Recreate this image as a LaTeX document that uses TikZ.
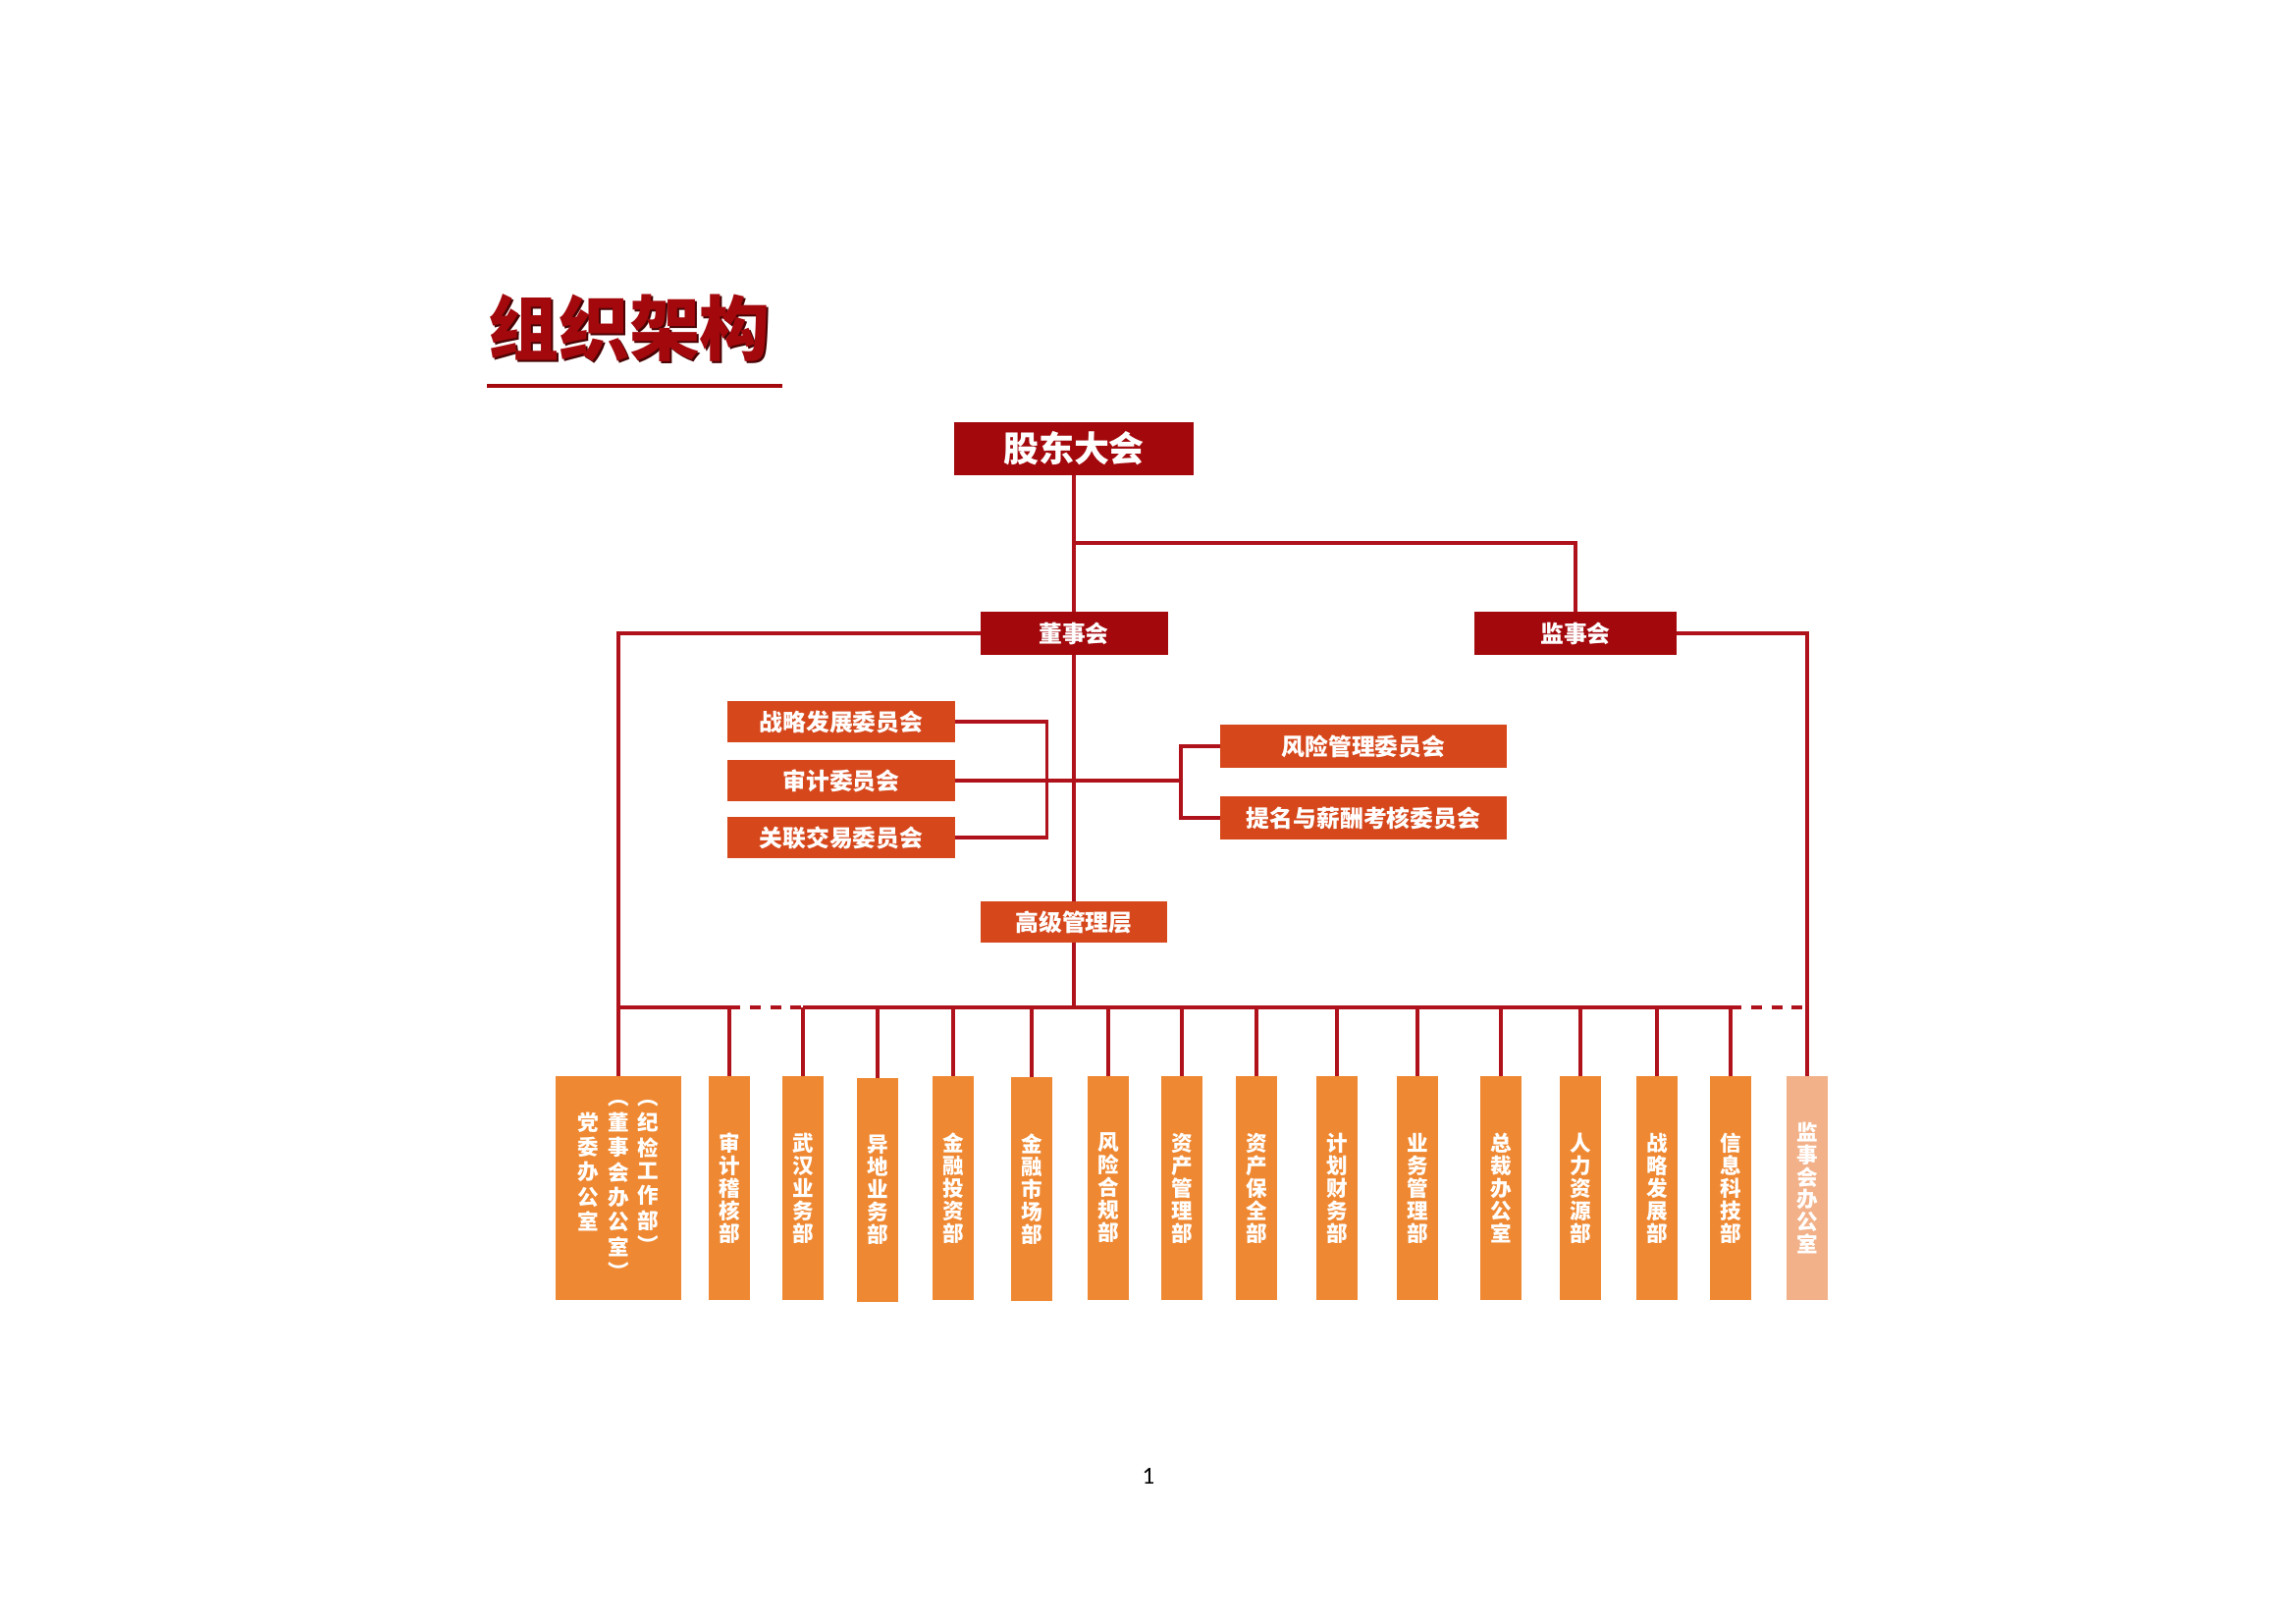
\documentclass[tikz,border=0pt]{standalone}
\usepackage{fontspec}
\setmainfont{Carlito}
\newfontfamily\cjk{Noto Sans CJK SC}
\usetikzlibrary{positioning}

\definecolor{dred}{RGB}{163,8,12}
\definecolor{lred}{RGB}{176,18,28}
\definecolor{ored}{RGB}{214,72,28}
\definecolor{orng}{RGB}{239,136,50}
\definecolor{lorng}{RGB}{242,177,137}

\begin{document}
\begin{tikzpicture}[
x=0.3613pt, y=-0.3613pt,
  hnode/.style={fill=dred,text=white,inner sep=0pt,outer sep=0pt,minimum height=15.9pt,
    font=\cjk\bfseries\fontsize{8.6}{10}\selectfont},
  wnode/.style={fill=ored,text=white,inner sep=0pt,outer sep=0pt,minimum height=15.5pt,
    font=\cjk\bfseries\fontsize{8.6}{10}\selectfont},
  bnode/.style={fill=orng,text=white,inner sep=0pt,outer sep=0pt,align=center,
    minimum width=15.5pt,minimum height=82.4pt,font=\cjk\bfseries\fontsize{7.8}{8.3}\selectfont},
  link/.style={draw=lred,line width=1.2pt},
  dlink/.style={link,dash pattern=on 4pt off 3.5pt}
]
\useasboundingbox (0,0) rectangle (2339,1654);

% title
\node[text=black!55!dred,font=\cjk\bfseries\fontsize{26}{30}\selectfont] (ts) at (643,336) {组织架构};
\node[text=dred,font=\cjk\bfseries\fontsize{26}{30}\selectfont] (tt) at (641,334) {组织架构};
\draw[dred,line width=1.8pt] (496,393) -- (797,393);

% top levels
\node[hnode,minimum width=88.2pt,minimum height=19.2pt,font=\cjk\bfseries\fontsize{13}{15}\selectfont] (gd) at (1094,457) {股东大会};
\node[hnode,minimum width=69pt] (dsh) at (1094,645) {董事会};
\node[hnode,minimum width=74.4pt] (jsh) at (1605,645) {监事会};

% committees
\node[wnode,minimum width=83.5pt,minimum height=15.2pt] (zl) at (857,735) {战略发展委员会};
\node[wnode,minimum width=83.5pt,minimum height=15.2pt] (sj) at (857,795) {审计委员会};
\node[wnode,minimum width=83.5pt,minimum height=15.2pt] (gl) at (857,853) {关联交易委员会};
\node[wnode,minimum width=105.5pt,minimum height=15.9pt] (fx) at (1389,760) {风险管理委员会};
\node[wnode,minimum width=105.5pt,minimum height=15.9pt] (tm) at (1389,833) {提名与薪酬考核委员会};
\node[wnode,minimum width=68.6pt] (gj) at (1094,939) {高级管理层};

% departments
\node[bnode,minimum width=46.2pt] (dw) at (630,1210) {%
  \begin{tabular}{@{}c@{\hspace{3.2pt}}c@{\hspace{3.2pt}}c@{}}
  \begin{tabular}[t]{@{}c@{}}\\党\\委\\办\\公\\室\end{tabular} &
  \begin{tabular}[t]{@{}c@{}}︵\\董\\事\\会\\办\\公\\室\\︶\end{tabular} &
  \begin{tabular}[t]{@{}c@{}}︵\\纪\\检\\工\\作\\部\\︶\end{tabular}
  \end{tabular}};
\node[bnode] (sjb) at (743,1210) {审\\计\\稽\\核\\部};
\node[bnode] (wh) at (818,1210) {武\\汉\\业\\务\\部};
\node[bnode] (yd) at (894,1212) {异\\地\\业\\务\\部};
\node[bnode] (jt) at (971,1210) {金\\融\\投\\资\\部};
\node[bnode] (js) at (1051,1211) {金\\融\\市\\场\\部};
\node[bnode] (fh) at (1129,1210) {风\\险\\合\\规\\部};
\node[bnode] (zg) at (1204,1210) {资\\产\\管\\理\\部};
\node[bnode] (zb) at (1280,1210) {资\\产\\保\\全\\部};
\node[bnode] (jh) at (1362,1210) {计\\划\\财\\务\\部};
\node[bnode] (yw) at (1444,1210) {业\\务\\管\\理\\部};
\node[bnode] (zc) at (1529,1210) {总\\裁\\办\\公\\室};
\node[bnode] (rl) at (1610,1210) {人\\力\\资\\源\\部};
\node[bnode] (zf) at (1688,1210) {战\\略\\发\\展\\部};
\node[bnode] (xx) at (1763,1210) {信\\息\\科\\技\\部};
\node[bnode,fill=lorng] (jb) at (1841,1210) {监\\事\\会\\办\\公\\室};

\node[font=\fontsize{9}{11}\selectfont] (pg) at (1170,1503) {1};

% connectors
\coordinate (t1) at (1094,553);
\coordinate (rb) at (1203,795);
\coordinate (bl) at (630,1026);
\coordinate (br) at (1841,1026);
\draw[link] (gd) -- (dsh);
\draw[link] (t1) -| (jsh);
\draw[link] (dsh) -- (gj);
\draw[link] (dsh.west) -| (dw);
\draw[link] (jsh.east) -| (jb);
\draw[link] (zl.east) -- ++(94,0) |- (gl.east);
\draw[link] (sj.east) -- (rb);
\draw[link] (fx.west) -| (rb) |- (tm.west);
\draw[link] (gj) -- (gj |- bl);
\draw[link] (bl) -- (bl -| sjb);
\draw[dlink] (bl -| sjb) -- (bl -| wh);
\draw[link] (bl -| wh) -- (bl -| xx);
\draw[dlink] (bl -| xx) -- (br);
\draw[link] (bl -| sjb) -- (sjb) (bl -| wh) -- (wh) (bl -| yd) -- (yd)
  (bl -| jt) -- (jt) (bl -| js) -- (js) (bl -| fh) -- (fh) (bl -| zg) -- (zg)
  (bl -| zb) -- (zb) (bl -| jh) -- (jh) (bl -| yw) -- (yw) (bl -| zc) -- (zc)
  (bl -| rl) -- (rl) (bl -| zf) -- (zf) (bl -| xx) -- (xx);
\end{tikzpicture}
\end{document}
